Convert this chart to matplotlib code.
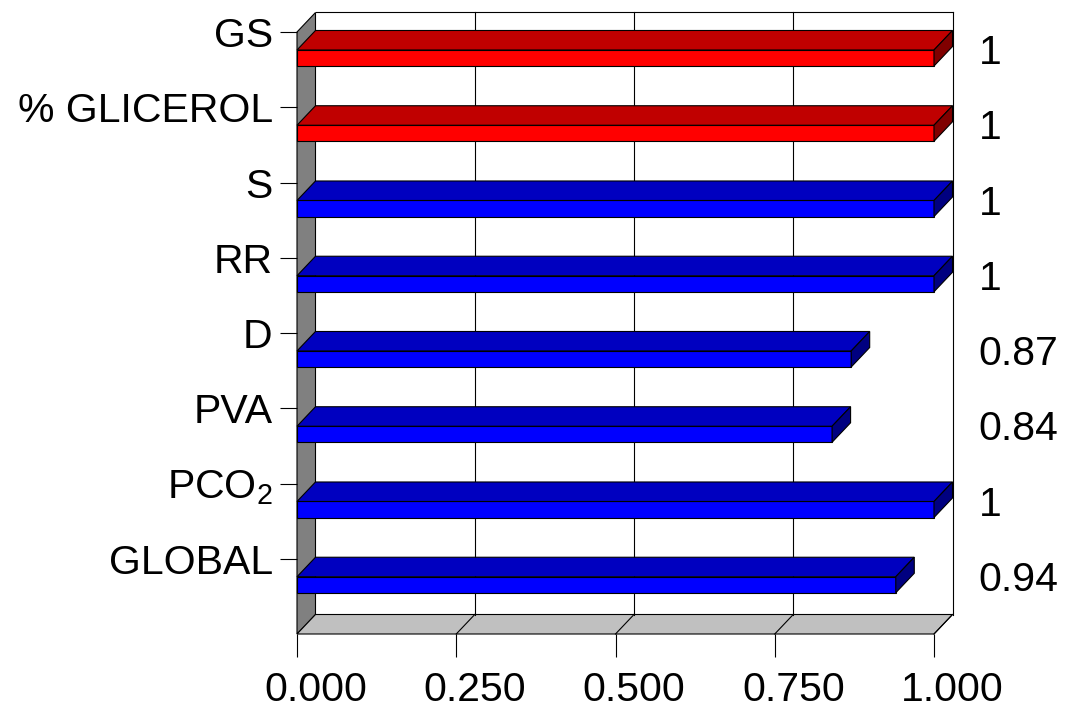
import numpy as np
import matplotlib
matplotlib.use("Agg")
import matplotlib.pyplot as plt
from matplotlib.patches import Polygon
from matplotlib.transforms import ScaledTranslation

plt.rcParams["font.family"] = ["Liberation Sans", "DejaVu Sans"]
plt.rcParams["mathtext.default"] = "regular"

categories = ["GS", "% GLICEROL", "S", "RR", "D", "PVA", "PCO$_2$", "GLOBAL"]
values = [1, 1, 1, 1, 0.87, 0.84, 1, 0.94]
value_labels = ["1", "1", "1", "1", "0.87", "0.84", "1", "0.94"]
groups = ["red", "red", "blue", "blue", "blue", "blue", "blue", "blue"]
x_ticks = [0.0, 0.25, 0.5, 0.75, 1.0]

# front, top, side shades for each bar colour
shades = {
    "red": ("#ff0000", "#c00000", "#800000"),
    "blue": ("#0000ff", "#0000c0", "#000080"),
}

W, H = 1068, 713
fig = plt.figure(figsize=(W / 100, H / 100), dpi=100)
ax = fig.add_axes((297 / W, (H - 634) / H, (934 - 297) / W, (634 - 32) / H))
n = len(categories)
ax.set_xlim(0, 1)
ax.set_ylim(n, 0)

# depth of the 3d box, in pixels
DX, DY = 18.5, 19.5
lw = 0.8


def back(x, y):
    pts = ax.transData.transform(np.column_stack([np.atleast_1d(x), np.atleast_1d(y)]))
    return ax.transData.inverted().transform(pts + [DX, DY])


def poly(pts, color, z):
    ax.add_patch(Polygon(pts, closed=True, facecolor=color, edgecolor="black",
                         linewidth=lw, zorder=z, clip_on=False))


# left wall and floor
b = back([0, 0], [0, n])
poly([(0, 0), (0, n), b[1], b[0]], "#808080", 1)
b = back([0, 1], [n, n])
poly([(0, n), (1, n), b[1], b[0]], "#c0c0c0", 1)

# back wall frame and gridlines
top = back([0, 1], [0, 0])
ax.plot(top[:, 0], top[:, 1], color="black", lw=lw, clip_on=False, zorder=1.5)
for t in x_ticks[1:]:
    g = back([t, t], [0, n])
    ax.plot(g[:, 0], g[:, 1], color="black", lw=lw, clip_on=False, zorder=1.5)
    f = np.vstack([[t, n], back(t, n)])
    ax.plot(f[:, 0], f[:, 1], color="black", lw=lw, clip_on=False, zorder=1.5)

# bars
y0, y1 = 0.239, 0.452
for i, (v, grp) in enumerate(zip(values, groups)):
    front, topc, side = shades[grp]
    yt, yb = i + y0, i + y1
    poly([(0, yt), (v, yt), (v, yb), (0, yb)], front, 3)
    bt = back([0, v], [yt, yt])
    poly([(0, yt), (v, yt), bt[1], bt[0]], topc, 3)
    bs = back([v, v], [yt, yb])
    poly([(v, yt), (v, yb), bs[1], bs[0]], side, 3)
    ax.text(1.07, i + 0.28, value_labels[i], fontsize=29.5, ha="left", va="center",
            clip_on=False)

ax.set_yticks(np.arange(n))
ax.set_yticklabels(categories, fontsize=29.5)
ax.set_xticks(x_ticks)
ax.set_xticklabels([f"{t:.3f}" for t in x_ticks], fontsize=29.5)
ax.tick_params(axis="y", length=12.5, width=lw, pad=5)
ax.tick_params(axis="x", length=16.5, width=lw, pad=10)

# x tick labels line up with the back edge of the floor
shift = ScaledTranslation(DX / 100, 0, fig.dpi_scale_trans)
for lab in ax.get_xticklabels():
    lab.set_transform(lab.get_transform() + shift)

for s in ["top", "right", "left", "bottom"]:
    ax.spines[s].set_visible(False)
ax.patch.set_visible(False)

fig.savefig("out.png", dpi=100)
